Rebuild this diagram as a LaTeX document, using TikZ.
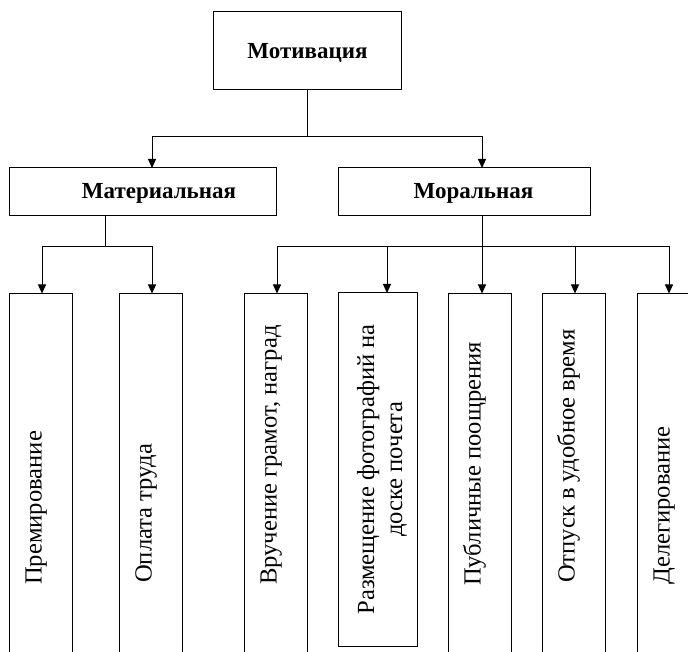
\documentclass[tikz,border=0pt]{standalone}
\usepackage{fontspec}
\setmainfont{Liberation Serif}
\usetikzlibrary{arrows.meta}
\begin{document}
\begin{tikzpicture}[x=1pt,y=-1pt,
  box/.style={draw, line width=1pt, inner sep=0pt, outer sep=0pt},
  conn/.style={line width=1pt},
  arr/.style={conn, -{Triangle[length=9pt,width=8pt]}},
  toplbl/.style={font=\fontsize{23}{27}\selectfont\bfseries, inner sep=0pt},
  vlbl/.style={font=\fontsize{24.6}{28}\selectfont, rotate=90, anchor=base west, inner sep=0pt}]
\useasboundingbox (0,0) rectangle (688,652);
\clip (0,0) rectangle (688,652);

% upper boxes
\node[box, minimum width=188pt, minimum height=78pt] (mot) at (307.5,51) {};
\node[toplbl] (motT) at (307.5,53) {Мотивация};
\node[box, minimum width=267pt, minimum height=48pt] (mat) at (142.5,192) {};
\node[toplbl] (matT) at (159,193) {Материальная};
\node[box, minimum width=252pt, minimum height=48pt] (mor) at (464,192) {};
\node[toplbl] (morT) at (473.5,193) {Моральная};

% lower boxes
\node[box, minimum width=63pt, minimum height=466pt] (p1) at (40.5,526.5) {};
\node[box, minimum width=63pt, minimum height=466pt] (p2) at (150.5,526.5) {};
\node[box, minimum width=63pt, minimum height=466pt] (p3) at (275.5,526.5) {};
\node[box, minimum width=79pt, minimum height=353.5pt] (p4) at (377.5,469.75) {};
\node[box, minimum width=63pt, minimum height=466pt] (p5) at (479.5,526.5) {};
\node[box, minimum width=63pt, minimum height=466pt] (p6) at (573.5,526.5) {};
\node[box, minimum width=63pt, minimum height=466pt] (p7) at (668.5,526.5) {};

\node[vlbl] (t1) at (41.5,585) {Премирование};
\node[vlbl] (t2) at (151.5,583) {Оплата труда};
\node[vlbl] (t3) at (276.5,585) {Вручение грамот, наград};
\node[font=\fontsize{24.6}{28}\selectfont, rotate=90, align=center, inner sep=0pt] (t4) at (382,469.5) {Размещение фотографий на\\доске почета};
\node[vlbl] (t5) at (480.5,586) {Публичные поощрения};
\node[vlbl] (t6) at (574.5,583) {Отпуск в удобное время};
\node[vlbl] (t7) at (669.5,585) {Делегирование};

% levels and drop positions
\coordinate (tb) at (0,137);
\coordinate (mb) at (0,247);
\coordinate (xMat) at (152,0);
\coordinate (xMor) at (482,0);
\coordinate (xMatS) at (105,0);
\coordinate (x1) at (42,0);
\coordinate (x2) at (152,0);
\coordinate (x3) at (277,0);
\coordinate (x4) at (387,0);
\coordinate (x5) at (482,0);
\coordinate (x6) at (575,0);
\coordinate (x7) at (669,0);

% connectors
\draw[arr] (mot.south) |- (tb -| xMat) -- (mat.north -| xMat);
\draw[arr] (mot.south) |- (tb -| xMor) -- (mor.north -| xMor);

\draw[arr] (mat.south -| xMatS) |- (mb -| x1) -- (p1.north -| x1);
\draw[arr] (mat.south -| xMatS) |- (mb -| x2) -- (p2.north -| x2);

\draw[arr] (mor.south -| xMor) |- (mb -| x3) -- (p3.north -| x3);
\draw[arr] (mor.south -| xMor) |- (mb -| x4) -- (p4.north -| x4);
\draw[arr] (mor.south -| xMor) -- (p5.north -| x5);
\draw[arr] (mor.south -| xMor) |- (mb -| x6) -- (p6.north -| x6);
\draw[arr] (mor.south -| xMor) |- (mb -| x7) -- (p7.north -| x7);
\end{tikzpicture}
\end{document}
